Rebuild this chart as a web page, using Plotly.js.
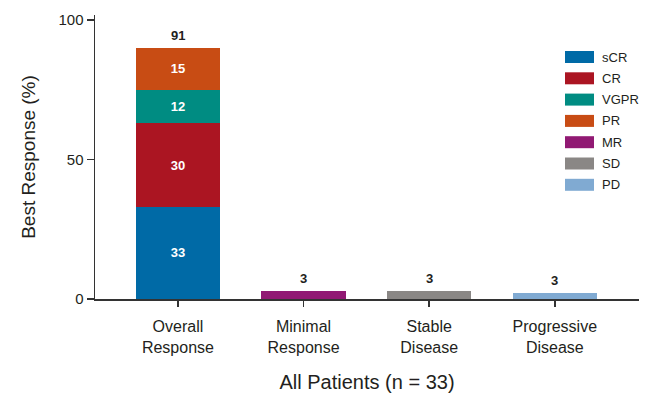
<!DOCTYPE html>
<html>
<head>
<meta charset="utf-8">
<script src="https://cdn.plot.ly/plotly-3.0.1.min.js"></script>
<style>html,body{margin:0;padding:0;background:#fff;}#chart{width:660px;height:395px;}</style>
</head>
<body>
<div id="chart"></div>
<script>
// ---- data ----
const categories = ["Overall<br>Response", "Minimal<br>Response", "Stable<br>Disease", "Progressive<br>Disease"];
const seriesNames = ["sCR", "CR", "VGPR", "PR", "MR", "SD", "PD"];
const sCR  = [33, 0, 0, 0];
const CR   = [30, 0, 0, 0];
const VGPR = [12, 0, 0, 0];
const PR   = [15, 0, 0, 0];
const MR   = [0, 3, 0, 0];
const SD   = [0, 0, 3, 0];
const PD   = [0, 0, 0, 2.3];
const totalLabels = ["91", "3", "3", "3"];
const yTicks = [0, 50, 100];

// ---- style ----
const seriesValues = [sCR, CR, VGPR, PR, MR, SD, PD];
const colors = ["#006aa6", "#ab1522", "#008c82", "#c84c14", "#911973", "#8a8785", "#80aad2"];
const FONT = "Liberation Sans, Arial, Helvetica, sans-serif";
const INK = "#231f20";

const traces = seriesNames.map((name, i) => ({
  type: "bar",
  name: name,
  x: categories,
  y: seriesValues[i],
  marker: { color: colors[i], line: { width: 0 } },
  text: seriesValues[i].map(v => v >= 10 ? String(v) : ""),
  textposition: "inside",
  insidetextanchor: "middle",
  textangle: 0,
  textfont: { family: FONT, size: 13, color: "#ffffff", weight: "bold" },
  hoverinfo: "skip",
  showlegend: false
}));

const totals = categories.map((c, j) => seriesValues.reduce((s, arr) => s + arr[j], 0));

const annotations = categories.map((c, j) => ({
  x: c, y: totals[j], xref: "x", yref: "y",
  text: "<b>" + totalLabels[j] + "</b>",
  showarrow: false, yanchor: "bottom", yshift: 3,
  font: { family: FONT, size: 13, color: INK }
}));

// custom legend (paper coords)
const shapes = [];
const plotTop = 15, plotBottom = 299;
const toPaperY = py => (plotBottom - py) / (plotBottom - plotTop);
const legX0 = (565 - 95) / 544, legX1 = (594 - 95) / 544, legTx = (600 - 95) / 544;
seriesNames.forEach((name, i) => {
  const cy = 57 + i * 21.3;
  shapes.push({
    type: "rect", xref: "paper", yref: "paper",
    x0: legX0, x1: legX1, y0: toPaperY(cy + 6), y1: toPaperY(cy - 6),
    fillcolor: colors[i], line: { width: 0 }
  });
  annotations.push({
    xref: "paper", yref: "paper", x: legTx, y: toPaperY(cy),
    xanchor: "left", yanchor: "middle", showarrow: false,
    text: name, font: { family: FONT, size: 13, color: INK }
  });
});

const layout = {
  width: 660, height: 395,
  margin: { l: 95, r: 21, t: 15, b: 96 },
  paper_bgcolor: "#ffffff", plot_bgcolor: "#ffffff",
  barmode: "stack",
  bargap: 0.33,
  showlegend: false,
  font: { family: FONT, color: INK },
  xaxis: {
    type: "category",
    range: [-0.66, 3.67],
    showline: true, linecolor: "#333", linewidth: 1.5,
    ticks: "outside", ticklen: 6, tickcolor: "#333", tickwidth: 1.5,
    ticklabelstandoff: 6,
    showgrid: false, zeroline: false,
    tickfont: { family: FONT, size: 16, color: INK },
    title: { text: "All Patients (n = 33)", font: { family: FONT, size: 20, color: INK }, standoff: 20 }
  },
  yaxis: {
    range: [0, 101.8],
    tickvals: yTicks,
    showline: true, linecolor: "#333", linewidth: 1.5,
    ticks: "outside", ticklen: 7, tickcolor: "#333", tickwidth: 1.5,
    showgrid: false, zeroline: false,
    tickfont: { family: FONT, size: 15, color: INK },
    title: { text: "Best Response (%)", font: { family: FONT, size: 19, color: INK }, standoff: 18 }
  },
  shapes: shapes,
  annotations: annotations
};

Plotly.newPlot("chart", traces, layout, { displayModeBar: false, staticPlot: true });
</script>
</body>
</html>
